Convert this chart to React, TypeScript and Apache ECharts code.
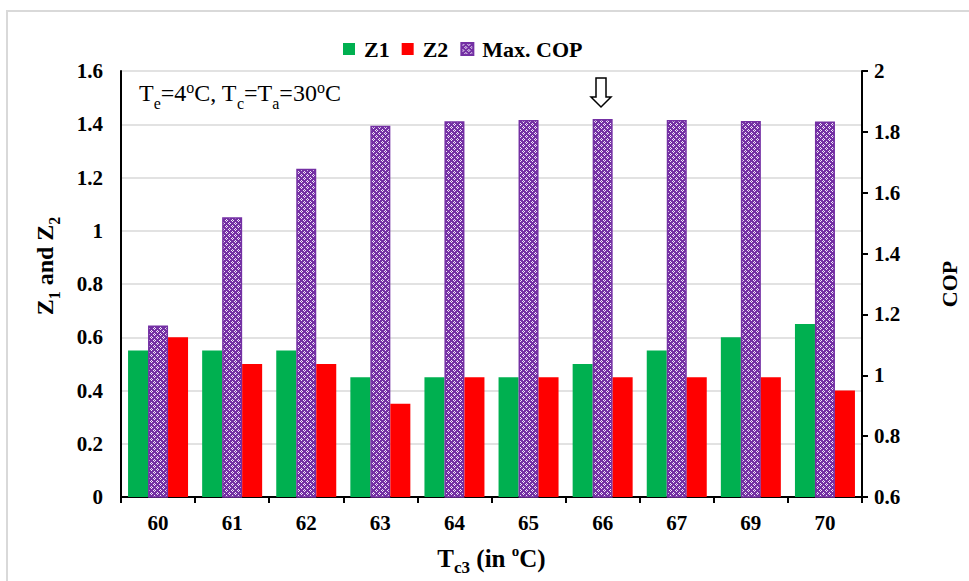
import React, { useEffect, useRef } from "react";
import * as echarts from "echarts";

const categories = ["60", "61", "62", "63", "64", "65", "66", "67", "69", "70"];
const z1Values = [0.55, 0.55, 0.55, 0.45, 0.45, 0.45, 0.5, 0.55, 0.6, 0.65];
const z2Values = [0.6, 0.5, 0.5, 0.35, 0.45, 0.45, 0.45, 0.45, 0.45, 0.4];
const maxCopValues = [1.164, 1.519, 1.679, 1.82, 1.835, 1.839, 1.842, 1.839, 1.836, 1.834];

const FONT = "'Liberation Serif', 'Times New Roman', serif";
const PURPLE = "#7430A4";

function makePattern(): HTMLCanvasElement {
  const c = document.createElement("canvas");
  c.width = 6;
  c.height = 6;
  const ctx = c.getContext("2d")!;
  ctx.fillStyle = PURPLE;
  ctx.fillRect(0, 0, 6, 6);
  ctx.fillStyle = "#F2E8F9";
  const pts = [
    [1, 0], [0, 1], [2, 1], [1, 2],
    [4, 3], [3, 4], [5, 4], [4, 5],
  ];
  for (const [x, y] of pts) ctx.fillRect(x, y, 1, 1);
  return c;
}

export default function App() {
  const ref = useRef<HTMLDivElement>(null);
  useEffect(() => {
    if (!ref.current) return;
    const chart = echarts.init(ref.current, null, { renderer: "svg" });
    const pattern = { image: makePattern(), repeat: "repeat" as const };
    const labelStyle = { fontFamily: FONT, fontWeight: "bold" as const, fontSize: 21, color: "#000" };
    chart.setOption({
      animation: false,
      backgroundColor: "#fff",
      legend: {
        data: ["Z1", "Z2", "Max. COP"],
        left: 338,
        top: 33,
        itemWidth: 12,
        itemHeight: 12,
        itemGap: 12,
        icon: "rect",
        textStyle: { fontFamily: FONT, fontWeight: "bold", fontSize: 22, color: "#000", padding: [0, 0, 0, 4] },
      },
      grid: { left: 121, top: 71, width: 741, height: 427, containLabel: false },
      xAxis: {
        type: "category",
        data: categories,
        axisLine: { lineStyle: { color: "#000", width: 2 } },
        axisTick: { show: true, length: 6, lineStyle: { color: "#000", width: 2 } },
        axisLabel: { ...labelStyle, margin: 15 },
        name: "{b|T}{s|c3}{b| (in }{p|o}{b|C)}",
        nameLocation: "middle",
        nameGap: 46,
        nameTextStyle: {
          rich: {
            b: { fontFamily: FONT, fontWeight: "bold", fontSize: 25, color: "#000", lineHeight: 30 },
            s: { fontFamily: FONT, fontWeight: "bold", fontSize: 17, color: "#000", verticalAlign: "bottom", padding: [0, 0, -3, 0] },
            p: { fontFamily: FONT, fontWeight: "bold", fontSize: 15, color: "#000", verticalAlign: "top" },
          },
        },
      },
      yAxis: [
        {
          type: "value",
          min: 0,
          max: 1.6,
          interval: 0.2,
          axisLine: { show: true, lineStyle: { color: "#000", width: 2 } },
          axisTick: { show: false },
          axisLabel: { ...labelStyle, margin: 18 },
          splitLine: { show: true, lineStyle: { color: "#D9D9D9", width: 1.5 } },
        },
        {
          type: "value",
          min: 0.6,
          max: 2,
          interval: 0.2,
          position: "right",
          axisLine: { show: true, lineStyle: { color: "#000", width: 2 } },
          axisTick: { show: true, length: 6, lineStyle: { color: "#000", width: 2 } },
          axisLabel: { ...labelStyle, margin: 12 },
          splitLine: { show: false },
          name: "COP",
          nameLocation: "middle",
          nameRotate: 90,
          nameGap: 76,
          nameTextStyle: { fontFamily: FONT, fontWeight: "bold", fontSize: 22, color: "#000" },
        },
      ],
      series: [
        {
          name: "Z1",
          type: "bar",
          yAxisIndex: 0,
          data: z1Values,
          barWidth: 20,
          barGap: "0%",
          itemStyle: { color: "#00B050" },
        },
        {
          name: "Max. COP",
          type: "bar",
          yAxisIndex: 1,
          data: maxCopValues,
          barWidth: 20,
          barGap: "0%",
          itemStyle: { color: pattern, borderColor: PURPLE, borderWidth: 1.5 },
        },
        {
          name: "Z2",
          type: "bar",
          yAxisIndex: 0,
          data: z2Values,
          barWidth: 20,
          barGap: "0%",
          itemStyle: { color: "#FF0000" },
        },
      ],
      graphic: [
        {
          type: "rect",
          shape: { x: 7, y: 11, width: 980, height: 590 },
          style: { fill: "none", stroke: "#D9D9D9", lineWidth: 2 },
          silent: true,
        },
        {
          type: "text",
          x: 45,
          y: 266,
          rotation: Math.PI / 2,
          style: {
            text: "{b|Z}{s|1}{b| and Z}{s|2}",
            align: "center",
            verticalAlign: "middle",
            rich: {
              b: { fontFamily: FONT, fontWeight: "bold", fontSize: 24, fill: "#000", lineHeight: 28 },
              s: { fontFamily: FONT, fontWeight: "bold", fontSize: 16, fill: "#000", verticalAlign: "bottom", padding: [0, 0, -3, 0] },
            },
          },
        },
        {
          type: "text",
          left: 139,
          top: 79,
          style: {
            text: "{n|T}{s|e}{n|=4}{p|o}{n|C, T}{s|c}{n|=T}{s|a}{n|=30}{p|o}{n|C}",
            rich: {
              n: { fontFamily: FONT, fontSize: 24, fill: "#000", lineHeight: 27 },
              s: { fontFamily: FONT, fontSize: 16, fill: "#000", verticalAlign: "bottom", padding: [0, 0, -5, 0] },
              p: { fontFamily: FONT, fontSize: 16, fill: "#000", verticalAlign: "top" },
            },
          },
        },
        {
          type: "polygon",
          shape: {
            points: [
              [596, 78],
              [606, 78],
              [606, 97],
              [611, 97],
              [601, 107],
              [591, 97],
              [596, 97],
            ],
          },
          style: { fill: "#fff", stroke: "#000", lineWidth: 1.5 },
        },
      ],
    });
    return () => chart.dispose();
  }, []);
  return (
    <div
      ref={ref}
      style={{ position: "absolute", left: 0, top: 0, width: 969, height: 581 }}
    />
  );
}
